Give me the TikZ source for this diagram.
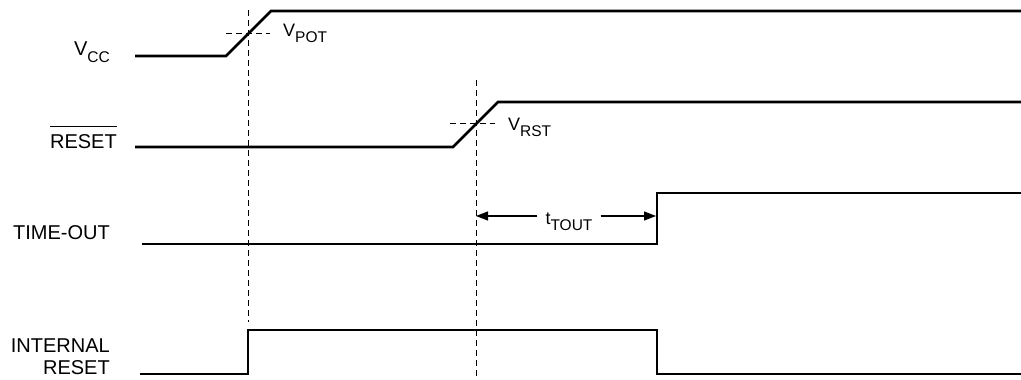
\documentclass[tikz,border=0pt]{standalone}
\usepackage{fontspec}
\setmainfont{Liberation Sans}
\usetikzlibrary{arrows.meta,positioning}
\newcommand{\barred}[1]{\vbox{\hrule height 1pt\kern 7pt\hbox{#1}}}
\newcommand{\lowsub}[1]{\raisebox{-6pt}{\fontsize{15.5}{16}\selectfont #1}}

\begin{document}
\begin{tikzpicture}[x=1pt,y=-1pt,
  every node/.style={font=\fontsize{20}{22}\selectfont,inner sep=0pt},
  small/.style={font=\fontsize{18}{20}\selectfont},
  sig/.style={line width=2.6pt,line join=miter},
  guide/.style={line width=1pt,dash pattern=on 6pt off 4pt},
  span/.style={line width=1.2pt,-{Triangle[length=12pt,width=9pt]}}]
  \useasboundingbox (0,0) rectangle (1021,380);
  %% signal names
  \node[anchor=base east] (vcc) at (110,56) {V\lowsub{CC}};
  \node[anchor=base east] (rst) at (117,148) {\barred{RESET}};
  \node[anchor=base east] (tout) at (110,239) {TIME-OUT};
  \node[anchor=north east,align=right] (intrst) at (110,338.5) {INTERNAL\\RESET};
  %% waveforms
  \draw[sig] (135,56) -- (226,56) -- (271,11) -- (1021,11);
  \draw[sig] (135,147) -- (453,147) -- (498,102) -- (1021,102);
  \draw[sig] (142,244) -- (657,244) -- (657,193) -- (1021,193);
  \draw[sig] (140,374) -- (248,374) -- (248,330) -- (657,330) -- (657,374) -- (1021,374);
  %% thresholds
  \draw[guide] (248,10) -- (248,322);
  \draw[guide] (226,33.5) -- (270,33.5);
  \node[small,anchor=base west] (vpot) at (283,36) {V\lowsub{POT}};
  \draw[guide] (476,80) -- (476,380);
  \draw[guide] (450,123) -- (495,123);
  \node[small,anchor=base west] (vrst) at (508,130) {V\lowsub{RST}};
  %% time-out interval
  \coordinate (rstmark) at (476,216);
  \coordinate (toutmark) at (656,216);
  \node[small,anchor=base,inner xsep=8pt] (ttout) at (569,224) {t\lowsub{TOUT}};
  \draw[span] (ttout.west |- rstmark) -- (rstmark);
  \draw[span] (ttout.east |- toutmark) -- (toutmark);
\end{tikzpicture}
\end{document}
